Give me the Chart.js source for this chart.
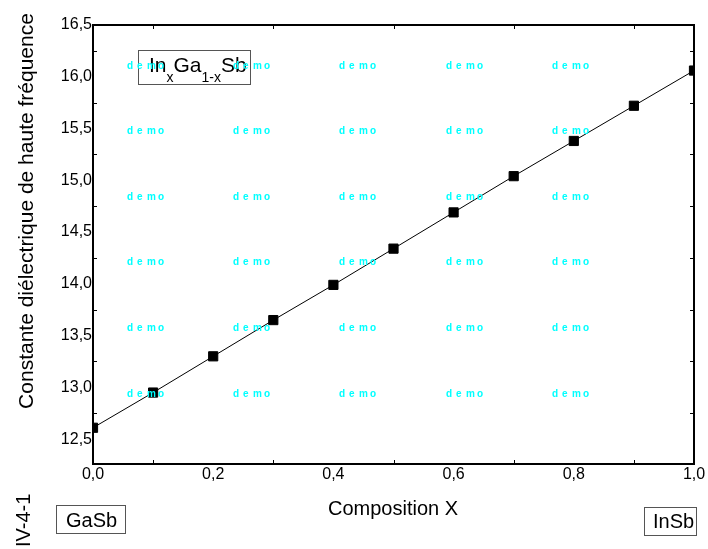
<!DOCTYPE html>
<html><head><meta charset="utf-8">
<script src="https://cdn.jsdelivr.net/npm/chart.js@4.4.0/dist/chart.umd.min.js"></script>
<style>html,body{margin:0;padding:0;background:#fff;}canvas{display:block;}</style>
</head><body>
<canvas id="c" width="708" height="549"></canvas>
<script>
const compositionX = [0, 0.1, 0.2, 0.3, 0.4, 0.5, 0.6, 0.7, 0.8, 0.9, 1.0];
const dielectric = [12.61, 12.95, 13.30, 13.65, 13.99, 14.34, 14.69, 15.04, 15.38, 15.72, 16.06];
const xTickValues = [0, 0.2, 0.4, 0.6, 0.8, 1.0];
const yTickValues = [12.5, 13.0, 13.5, 14.0, 14.5, 15.0, 15.5, 16.0, 16.5];
const xMinorTicks = [0.1, 0.3, 0.5, 0.7, 0.9];
const yMinorTicks = [12.75, 13.25, 13.75, 14.25, 14.75, 15.25, 15.75, 16.25];
const xTitle = 'Composition X';
const yTitle = 'Constante diélectrique de haute fréquence';
const leftCompound = 'GaSb';
const rightCompound = 'InSb';
const figureLabel = 'IV-4-1';
const formulaParts = [['In', false], ['x', true], ['Ga', false], ['1-x', true], ['Sb', false]];
const watermarkLetters = ['d', 'e', 'm', 'o'];

const FAM = "'Liberation Sans', Arial, Helvetica, sans-serif";
const fmt = v => Number(v).toFixed(1).replace('.', ',');

const decor = {
  id: 'decor',
  afterDatasetsDraw(chart) {
    const {ctx, chartArea: a, scales: {x, y}} = chart;
    ctx.save();
    ctx.strokeStyle = '#000';
    ctx.lineWidth = 2;
    ctx.strokeRect(a.left, a.top, a.right - a.left, a.bottom - a.top);
    ctx.lineWidth = 1;
    ctx.beginPath();
    xMinorTicks.forEach(v => {
      const px = Math.round(x.getPixelForValue(v)) + 0.5;
      ctx.moveTo(px, a.bottom); ctx.lineTo(px, a.bottom - 4);
      ctx.moveTo(px, a.top); ctx.lineTo(px, a.top + 4);
    });
    yMinorTicks.forEach(v => {
      const py = Math.round(y.getPixelForValue(v)) + 0.5;
      ctx.moveTo(a.left, py); ctx.lineTo(a.left + 4, py);
      ctx.moveTo(a.right, py); ctx.lineTo(a.right - 4, py);
    });
    ctx.stroke();
    ctx.restore();
  },
  afterDraw(chart) {
    const {ctx} = chart;
    ctx.save();
    ctx.fillStyle = '#000';
    ctx.textBaseline = 'alphabetic';
    ctx.font = '20px ' + FAM;
    ctx.textAlign = 'center';
    ctx.fillText(xTitle, 393, 515);
    ctx.save();
    ctx.translate(33, 211);
    ctx.rotate(-Math.PI / 2);
    ctx.font = '21px ' + FAM;
    ctx.textAlign = 'center';
    ctx.fillText(yTitle, 0, 0);
    ctx.restore();
    ctx.save();
    ctx.translate(30, 547);
    ctx.rotate(-Math.PI / 2);
    ctx.font = '20px ' + FAM;
    ctx.textAlign = 'left';
    ctx.fillText(figureLabel, 0, 0);
    ctx.restore();
    ctx.strokeStyle = '#555';
    ctx.lineWidth = 1;
    ctx.strokeRect(56.5, 505.5, 69, 28);
    ctx.strokeRect(644.5, 507.5, 52, 28);
    ctx.font = '20px ' + FAM;
    ctx.textAlign = 'left';
    ctx.fillText(leftCompound, 66, 527);
    ctx.fillText(rightCompound, 653, 528);
    ctx.strokeRect(138.5, 50.5, 112, 34);
    let cx = 149;
    formulaParts.forEach(([t, sub]) => {
      ctx.font = (sub ? '14px ' : '21px ') + FAM;
      ctx.fillText(t, cx, sub ? 82 : 72);
      cx += ctx.measureText(t).width;
    });
    ctx.fillStyle = '#00FFFF';
    ctx.font = 'bold 10px ' + FAM;
    const cols = [127, 233, 339, 446, 552];
    const rows = [65, 130, 196, 261, 327, 393];
    const offs = [0, 10, 20, 31];
    rows.forEach(r => cols.forEach(c => {
      watermarkLetters.forEach((l, i) => ctx.fillText(l, c + offs[i], r + 4));
    }));
    ctx.restore();
  }
};

new Chart(document.getElementById('c'), {
  type: 'line',
  data: {
    datasets: [{
      data: compositionX.map((v, i) => ({x: v, y: dielectric[i]})),
      borderColor: '#000',
      borderWidth: 1,
      backgroundColor: '#000',
      pointStyle: 'rect',
      pointRadius: 6.5,
      pointBorderWidth: 1,
      pointBorderColor: '#000',
      pointBackgroundColor: '#000',
      tension: 0,
      clip: 0
    }]
  },
  options: {
    responsive: false,
    devicePixelRatio: 1,
    animation: false,
    layout: {padding: {left: 0, top: 25, right: 14, bottom: 0}},
    plugins: {legend: {display: false}, tooltip: {enabled: false}, title: {display: false}},
    scales: {
      x: {
        type: 'linear', min: 0, max: 1,
        afterBuildTicks: s => { s.ticks = xTickValues.map(v => ({value: v})); },
        afterFit: s => { s.height = 85; s.paddingLeft = 0; s.paddingRight = 0; },
        ticks: {callback: fmt, color: '#000', font: {size: 16, family: FAM}, padding: 1, maxRotation: 0, autoSkip: false},
        grid: {display: false, drawTicks: false},
        border: {display: false}
      },
      y: {
        type: 'linear', min: 12.26, max: 16.5,
        afterBuildTicks: s => { s.ticks = yTickValues.map(v => ({value: v})); },
        afterFit: s => { s.width = 93; s.paddingTop = 0; s.paddingBottom = 0; },
        ticks: {callback: fmt, color: '#000', font: {size: 16, family: FAM}, padding: 1, autoSkip: false},
        grid: {display: false, drawTicks: false},
        border: {display: false}
      }
    }
  },
  plugins: [decor]
});
</script>
</body></html>
